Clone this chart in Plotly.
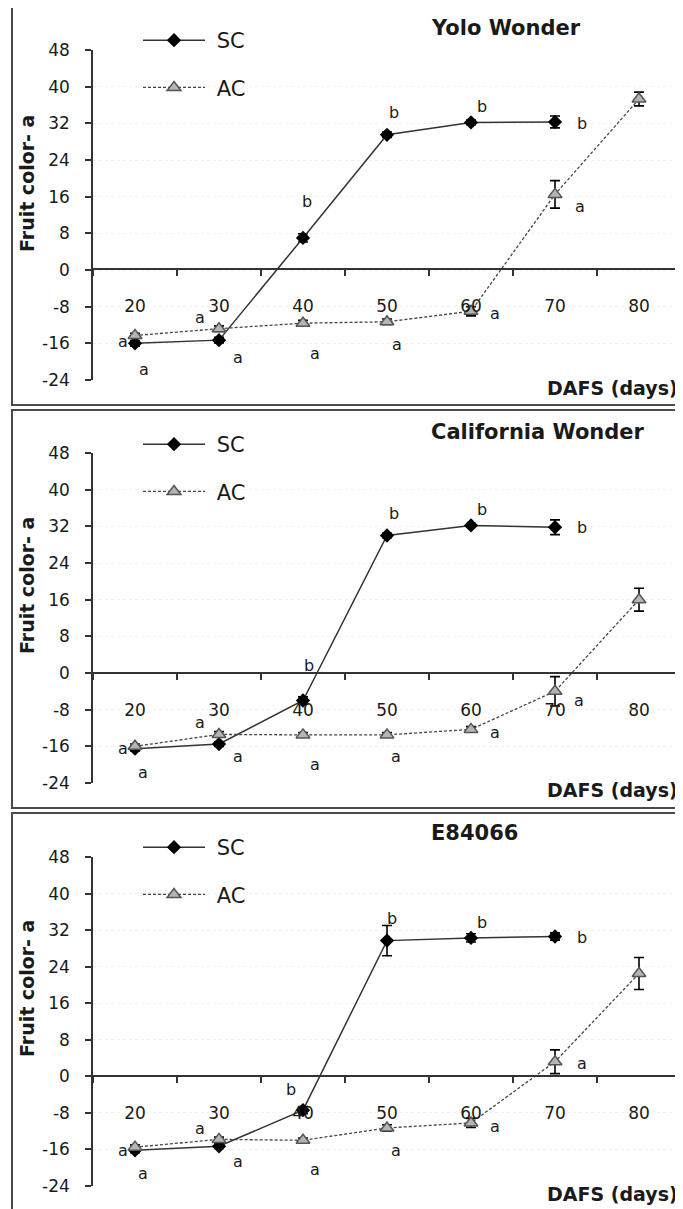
import plotly.graph_objects as go

# ---------------- data ----------------
DAYS = ["20", "30", "40", "50", "60", "70", "80"]
DAYS_SC = ["20", "30", "40", "50", "60", "70"]
PANEL_TITLES = ["Yolo Wonder", "California Wonder", "E84066"]
SERIES_NAMES = ["SC", "AC"]
Y_TICKS = [-24, -16, -8, 0, 8, 16, 24, 32, 40, 48]
Y_TICK_TEXT = ["-24", "-16", "-8", "0", "8", "16", "24", "32", "40", "48"]

# Yolo Wonder
YW_SC = [-16.0, -15.3, 7.0, 29.5, 32.2, 32.3]
YW_SC_ERR = [0.6, 0.6, 0.9, 0.6, 0.5, 1.3]
YW_AC = [-14.3, -12.8, -11.6, -11.3, -9.0, 16.5, 37.3]
YW_AC_ERR = [0.5, 0.6, 0.6, 0.6, 1.0, 3.0, 1.5]

# California Wonder
CW_SC = [-16.5, -15.5, -6.0, 30.0, 32.2, 31.8]
CW_SC_ERR = [0.5, 0.5, 0.8, 0.5, 0.4, 1.6]
CW_AC = [-16.0, -13.4, -13.5, -13.5, -12.3, -4.0, 16.0]
CW_AC_ERR = [0.5, 0.6, 0.5, 0.5, 0.6, 3.2, 2.5]

# E84066
E8_SC = [-16.2, -15.3, -7.4, 29.7, 30.3, 30.6]
E8_SC_ERR = [0.5, 0.5, 0.8, 3.3, 0.9, 0.8]
E8_AC = [-15.5, -13.8, -14.0, -11.3, -10.2, 3.2, 22.5]
E8_AC_ERR = [0.5, 0.5, 0.5, 0.7, 1.0, 2.6, 3.5]

# significance letters (same order in every panel)
LETTERS = ["a", "a", "a", "a", "b", "a", "b", "a", "b", "a", "b", "a"]

# letter anchor positions: (category, y value, horizontal px offset)
LETTER_POS = [
    [("20", -15.5, -12), ("20", -21.8, 9), ("30", -10.3, -19), ("30", -19.0, 19),
     ("40", 15.0, 4), ("40", -18.3, 12), ("50", 34.3, 7), ("50", -16.2, 10),
     ("60", 35.6, 11), ("60", -9.4, 24), ("70", 31.9, 27), ("70", 13.8, 25)],
    [("20", -16.4, -12), ("20", -21.6, 8), ("30", -10.9, -19), ("30", -18.3, 19),
     ("40", 1.7, 6), ("40", -19.9, 12), ("50", 34.9, 7), ("50", -18.3, 9),
     ("60", 35.6, 11), ("60", -12.9, 24), ("70", 31.7, 27), ("70", -5.9, 24)],
    [("20", -16.2, -12), ("20", -21.2, 8), ("30", -11.4, -19), ("30", -18.6, 19),
     ("40", -2.8, -12), ("40", -20.3, 12), ("50", 34.5, 5), ("50", -16.2, 9),
     ("60", 33.6, 11), ("60", -10.9, 24), ("70", 30.3, 27), ("70", 2.8, 27)],
]

# ---------------- layout geometry (reference pixels) ----------------
OFF = 8                      # page body margin compensation
W, H = 683 - OFF, 1209 - OFF
TOP48 = [50, 453, 857]
BOT24 = [380, 783, 1186]
ZERO = [269, 673, 1076]
FRAMES = [(12, 6, 700, 405), (12, 410, 700, 808), (12, 813, 700, 1220)]
TITLE_Y = [28, 432, 833]
DAFS_Y = [388, 790, 1194]
YTITLE_Y = [184, 586, 989]
LEG_Y = [20, 424, 827]

FONT = "DejaVu Sans"
TXT = "#1a1a1a"


def py(px):
    return 1 - (px - OFF) / H


def pxx(px):
    return (px - OFF) / W


sc_vals = [YW_SC, CW_SC, E8_SC]
sc_errs = [YW_SC_ERR, CW_SC_ERR, E8_SC_ERR]
ac_vals = [YW_AC, CW_AC, E8_AC]
ac_errs = [YW_AC_ERR, CW_AC_ERR, E8_AC_ERR]

fig = go.Figure()
annotations = []
shapes = []
layout_axes = {}

for k in range(3):
    sfx = "" if k == 0 else str(k + 1)
    xa, ya = "x" + sfx, "y" + sfx
    leg = "legend" + sfx

    fig.add_trace(go.Scatter(
        x=DAYS_SC, y=sc_vals[k], name=" " + SERIES_NAMES[0], xaxis=xa, yaxis=ya,
        mode="lines+markers", legend=leg, legendgroup="sc" + sfx,
        line=dict(color="#333333", width=1.5),
        marker=dict(symbol="diamond", size=11, color="black"),
        error_y=dict(type="data", array=sc_errs[k], color="black", thickness=1.6, width=5),
    ))
    fig.add_trace(go.Scatter(
        x=DAYS, y=ac_vals[k], name=" " + SERIES_NAMES[1], xaxis=xa, yaxis=ya,
        mode="lines+markers", legend=leg, legendgroup="ac" + sfx,
        line=dict(color="#444444", width=1.3, dash="3px,2px"),
        marker=dict(symbol="triangle-up", size=12, color="#b5b5b5",
                    line=dict(color="#555555", width=1.5)),
        error_y=dict(type="data", array=ac_errs[k], color="black", thickness=1.6, width=5),
    ))

    layout_axes["xaxis" + sfx] = dict(
        type="category", categoryorder="array", categoryarray=DAYS,
        range=[-0.5, 6.5], domain=[pxx(93), min(1.0, pxx(681))],
        anchor="free", position=py(ZERO[k]),
        showline=True, linecolor="#333333", linewidth=1.5,
        ticks="outside", ticklen=6, tickwidth=1.5, tickcolor="#333333",
        tickson="boundaries", ticklabelstandoff=22,
        showgrid=False, zeroline=False,
        tickfont=dict(family=FONT, size=17, color=TXT),
    )
    layout_axes["yaxis" + sfx] = dict(
        range=[-24, 48], domain=[py(BOT24[k]), py(TOP48[k])],
        anchor=xa, tickmode="array", tickvals=Y_TICKS, ticktext=Y_TICK_TEXT,
        showline=True, linecolor="#333333", linewidth=1.5,
        ticks="outside", ticklen=6, tickwidth=1.5, tickcolor="#333333",
        ticklabelstandoff=12,
        showgrid=True, gridcolor="#f1f1f1", griddash="dot", zeroline=False,
        tickfont=dict(family=FONT, size=17, color=TXT),
    )
    layout_axes[leg] = dict(
        x=pxx(138), y=py(LEG_Y[k]), xanchor="left", yanchor="top",
        bgcolor="rgba(0,0,0,0)", borderwidth=0,
        font=dict(family=FONT, size=21, color=TXT),
        traceorder="grouped", tracegroupgap=17, itemwidth=62,
    )

    x0, y0, x1, y1 = FRAMES[k]
    shapes.append(dict(type="rect", xref="paper", yref="paper",
                       x0=pxx(x0), x1=pxx(x1), y0=py(y1), y1=py(y0),
                       line=dict(color="#4a4a4a", width=2), layer="below"))

    annotations.append(dict(text=PANEL_TITLES[k], xref="paper", yref="paper",
                            x=pxx(429), y=py(TITLE_Y[k]), xanchor="left", yanchor="middle",
                            showarrow=False, font=dict(family=FONT, size=21, color=TXT, weight="bold")))
    annotations.append(dict(text="DAFS (days)", xref="paper", yref="paper",
                            x=pxx(680), y=py(DAFS_Y[k]), xanchor="right", yanchor="middle",
                            showarrow=False, font=dict(family=FONT, size=19, color=TXT, weight="bold")))
    annotations.append(dict(text="Fruit color- a", xref="paper", yref="paper",
                            x=pxx(27), y=py(YTITLE_Y[k]), xanchor="center", yanchor="middle",
                            textangle=-90, showarrow=False,
                            font=dict(family=FONT, size=19, color=TXT, weight="bold")))
    for letter, (cat, yv, dx) in zip(LETTERS, LETTER_POS[k]):
        annotations.append(dict(text=letter, xref=xa, yref=ya, x=DAYS.index(cat), y=yv, xshift=dx,
                                showarrow=False, xanchor="center", yanchor="middle",
                                font=dict(family=FONT, size=16, color=TXT)))

fig.update_layout(
    width=W, height=H, autosize=False,
    margin=dict(l=0, r=0, t=0, b=0, autoexpand=False),
    paper_bgcolor="white", plot_bgcolor="white",
    showlegend=True,
    annotations=annotations, shapes=shapes,
    **layout_axes,
)

fig.write_html("out.html")
